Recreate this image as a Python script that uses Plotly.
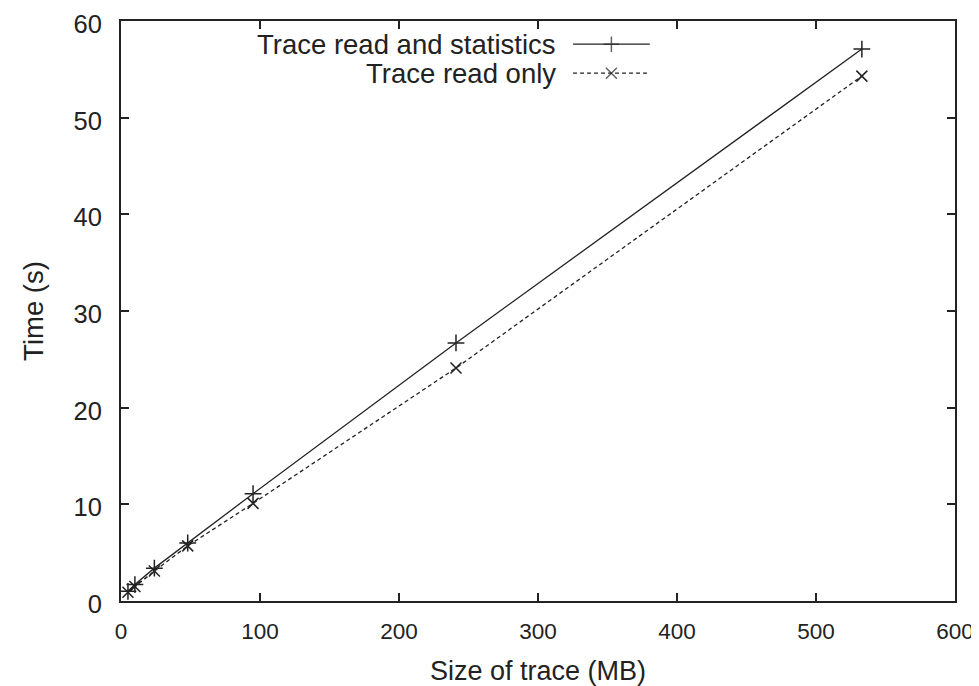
import plotly.graph_objects as go

# Data
trace_size_mb = [5, 10, 24, 48, 95, 241, 533]
time_read_and_stats = [1.0, 1.7, 3.4, 6.0, 11.1, 26.7, 57.1]
time_read_only = [0.9, 1.5, 3.1, 5.7, 10.1, 24.1, 54.3]
series_names = ["Trace read and statistics", "Trace read only"]
x_ticks = [0, 100, 200, 300, 400, 500, 600]
y_ticks = [0, 10, 20, 30, 40, 50, 60]

FONT = "Liberation Sans, Arial, sans-serif"
INK = "#222222"
FS = 27.5

fig = go.Figure()

fig.add_trace(go.Scatter(
    x=trace_size_mb, y=time_read_and_stats, name=series_names[0],
    mode="lines+markers",
    line=dict(color=INK, width=1.3),
    marker=dict(symbol="cross-thin", size=12, line=dict(color=INK, width=1.5)),
    showlegend=False,
))
fig.add_trace(go.Scatter(
    x=trace_size_mb, y=time_read_only, name=series_names[1],
    mode="lines+markers",
    line=dict(color=INK, width=1.3, dash="4px,3px"),
    marker=dict(symbol="x-thin", size=11, line=dict(color=INK, width=1.5)),
    showlegend=False,
))

# Manual gnuplot-style legend (text left, sample right) on an overlay axis
leg_rows = [0.960, 0.910]
leg_dash = ["solid", "4px,3px"]
leg_sym = ["cross-thin", "x-thin"]
for name, ry, dsh, sym in zip(series_names, leg_rows, leg_dash, leg_sym):
    fig.add_trace(go.Scatter(
        x=[0.542, 0.588, 0.634], y=[ry, ry, ry], xaxis="x2", yaxis="y2",
        mode="lines+markers", hoverinfo="skip", showlegend=False,
        line=dict(color=INK, width=1.3, dash=dsh),
        marker=dict(symbol=sym, size=[0, 11, 0], line=dict(color=INK, width=1.5)),
    ))
    fig.add_annotation(
        x=0.524, y=ry, xref="paper", yref="paper", text=name,
        showarrow=False, xanchor="right", yanchor="middle",
        font=dict(family=FONT, size=FS, color=INK),
    )

axis_common = dict(
    showline=True, linecolor=INK, linewidth=2, mirror="ticks",
    ticks="inside", ticklen=8, tickwidth=2, tickcolor=INK,
    showgrid=False, zeroline=False, automargin=False,
    ticklabeloverflow="allow",
)

fig.update_layout(
    width=971, height=678,
    margin=dict(l=113, r=24, t=13, b=85),
    paper_bgcolor="white", plot_bgcolor="white",
    font=dict(family=FONT, size=FS, color=INK),
    xaxis=dict(range=[0, 600], tickvals=x_ticks, ticklabelstandoff=9,
               tickfont=dict(family=FONT, size=22.5, color=INK),
               title=dict(text="Size of trace (MB)", standoff=23,
                          font=dict(family=FONT, size=27, color=INK)),
               **axis_common),
    yaxis=dict(range=[0, 60], tickvals=y_ticks, ticklabelstandoff=12,
               ticklabelshift=3,
               tickfont=dict(family=FONT, size=25.5, color=INK),
               title=dict(text="Time (s)", standoff=22,
                          font=dict(family=FONT, size=FS, color=INK)),
               **axis_common),
    xaxis2=dict(overlaying="x", range=[0, 1], visible=False, fixedrange=True),
    yaxis2=dict(overlaying="y", range=[0, 1], visible=False, fixedrange=True),
)

fig.write_html("out.html")
